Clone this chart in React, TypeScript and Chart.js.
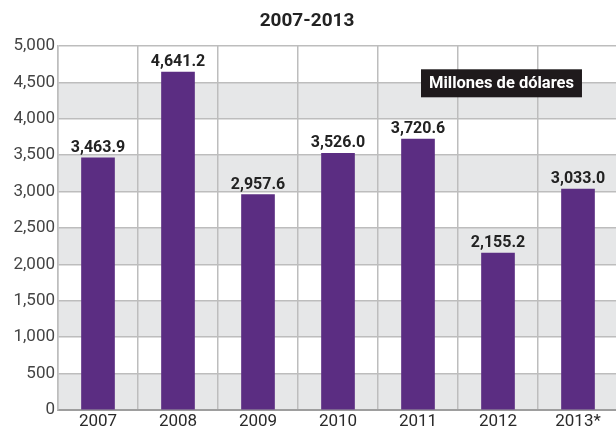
import React, { useEffect, useRef } from "react";
import { Chart, registerables } from "chart.js";

Chart.register(...registerables);

const categories = ["2007", "2008", "2009", "2010", "2011", "2012", "2013*"];
const values = [3463.9, 4641.2, 2957.6, 3526.0, 3720.6, 2155.2, 3033.0];
const valueLabels = ["3,463.9", "4,641.2", "2,957.6", "3,526.0", "3,720.6", "2,155.2", "3,033.0"];
const titleText = "2007-2013";
const unitText = "Millones de dólares";
const yMin = 0;
const yMax = 5000;
const yStep = 500;

const FONT = "Roboto, 'DejaVu Sans', sans-serif";

const bandsPlugin = {
  id: "bands",
  beforeDraw(chart: any) {
    const { ctx, chartArea, scales } = chart;
    const y = scales.y;
    ctx.save();
    ctx.fillStyle = "#e6e7e8";
    for (let v = yMin; v < yMax; v += yStep * 2) {
      const top = y.getPixelForValue(v + yStep);
      const bottom = y.getPixelForValue(v);
      ctx.fillRect(chartArea.left, top, chartArea.right - chartArea.left, bottom - top);
    }
    ctx.restore();
  },
};

const overlayPlugin = {
  id: "overlay",
  afterDraw(chart: any) {
    const { ctx, scales } = chart;
    const meta = chart.getDatasetMeta(0);
    ctx.save();
    // data labels
    ctx.fillStyle = "#222222";
    ctx.font = `bold 16px ${FONT}`;
    ctx.textAlign = "center";
    ctx.textBaseline = "alphabetic";
    meta.data.forEach((bar: any, i: number) => {
      ctx.fillText(valueLabels[i], bar.x, bar.y - 6);
    });
    // title
    ctx.font = `bold 19px ${FONT}`;
    ctx.fillStyle = "#222222";
    ctx.textBaseline = "middle";
    ctx.fillText(titleText, 307, 21);
    // unit box
    const x = scales.x;
    const yS = scales.y;
    const boxLeft = x.getPixelForValue(4) + 3;
    const boxTop = yS.getPixelForValue(4680);
    const boxH = 28;
    ctx.font = `bold 16.5px ${FONT}`;
    const tw = ctx.measureText(unitText).width;
    const boxW = tw + 16;
    ctx.fillStyle = "#1f1a1c";
    ctx.fillRect(boxLeft, boxTop, boxW, boxH);
    ctx.fillStyle = "#ffffff";
    ctx.textAlign = "left";
    ctx.fillText(unitText, boxLeft + 8, boxTop + boxH / 2 + 1);
    ctx.restore();
  },
};

export default function App() {
  const canvasRef = useRef<HTMLCanvasElement | null>(null);

  useEffect(() => {
    document.body.style.margin = "0";
    document.body.style.overflow = "hidden";
    const canvas = canvasRef.current;
    if (!canvas) return;
    const chart = new Chart(canvas, {
      type: "bar",
      data: {
        labels: categories,
        datasets: [
          {
            data: values,
            backgroundColor: "#5b2d82",
            barThickness: 33,
          },
        ],
      },
      options: {
        animation: false,
        responsive: false,
        maintainAspectRatio: false,
        layout: { padding: { top: 46, left: 0, right: 0, bottom: 0 } },
        plugins: {
          legend: { display: false },
          tooltip: { enabled: false },
          title: { display: false },
        },
        scales: {
          x: {
            grid: {
              offset: true,
              color: "#bdbdbd",
              lineWidth: 1.5,
              drawTicks: false,
            },
            border: { color: "#9e9e9e", width: 2 },
            ticks: {
              color: "#2a2a2a",
              font: { family: FONT, size: 17 },
              padding: 2,
              maxRotation: 0,
            },
            afterFit(axis: any) {
              axis.height = 23;
            },
          },
          y: {
            min: yMin,
            max: yMax,
            ticks: {
              stepSize: yStep,
              color: "#444444",
              font: { family: FONT, size: 17 },
              padding: 3,
              callback: (v: any) => Number(v).toLocaleString("en-US"),
            },
            grid: {
              color: "#bdbdbd",
              lineWidth: 1.5,
              drawTicks: false,
            },
            border: { color: "#bdbdbd", width: 1.5 },
            afterFit(axis: any) {
              axis.width = 58;
            },
          },
        },
      },
      plugins: [bandsPlugin, overlayPlugin],
    });
    return () => chart.destroy();
  }, []);

  return (
    <div style={{ width: 616, height: 433, overflow: "hidden" }}>
      <canvas ref={canvasRef} width={618} height={433} style={{ display: "block" }} />
    </div>
  );
}
